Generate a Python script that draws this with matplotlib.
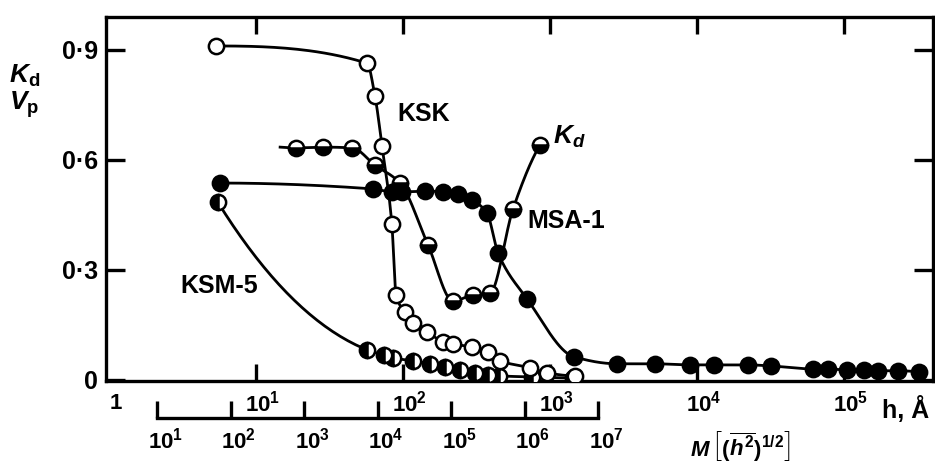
import numpy as np
import matplotlib
matplotlib.use('Agg')
import matplotlib.pyplot as plt
from matplotlib.ticker import NullLocator

plt.rcParams['font.family'] = ['Liberation Sans', 'DejaVu Sans']
plt.rcParams['font.weight'] = 'bold'
plt.rcParams['mathtext.fontset'] = 'custom'
plt.rcParams['mathtext.rm'] = 'Liberation Sans:bold'
plt.rcParams['mathtext.it'] = 'Liberation Sans:italic:bold'
plt.rcParams['mathtext.bf'] = 'Liberation Sans:bold'

# h [A] and Kd / Vp values
ksk_h = [5.35, 56.9, 64.5, 72, 84, 89.6, 103, 117, 146, 187, 219, 294, 379, 457, 731, 955, 1480]
ksk_v = [0.911, 0.864, 0.774, 0.638, 0.425, 0.232, 0.185, 0.155, 0.131, 0.104, 0.098, 0.090,
         0.076, 0.052, 0.033, 0.019, 0.011]

msa_h = [5.69, 62.5, 84, 98, 141, 187, 237, 294, 373, 443, 698, 1456, 2858, 5180, 8960,
         13050, 22240, 31870, 61500, 77800, 104800, 136700, 170300, 232900, 323800]
msa_v = [0.537, 0.521, 0.513, 0.513, 0.515, 0.513, 0.507, 0.491, 0.455, 0.346, 0.221, 0.063,
         0.044, 0.044, 0.041, 0.041, 0.041, 0.038, 0.030, 0.030, 0.027, 0.027, 0.025, 0.025, 0.022]

kd_h = [18.7, 28.6, 45, 64.5, 95.4, 148, 219, 299, 391, 560, 855]
kd_v = [0.633, 0.635, 0.633, 0.586, 0.537, 0.368, 0.215, 0.232, 0.237, 0.466, 0.641]
kd_line_start = (14.6, 0.635)

ksm_h = [5.5, 56.9, 74.3, 85.5, 117, 153, 193, 244, 309, 379, 450, 755, 1433]
ksm_v = [0.485, 0.082, 0.068, 0.060, 0.052, 0.044, 0.035, 0.027, 0.019, 0.014, 0.011, 0.008, 0.005]

h_ticks = [1, 1e1, 1e2, 1e3, 1e4, 1e5]
h_labels = ['1', r'$\mathregular{10^1}$', r'$\mathregular{10^2}$', r'$\mathregular{10^3}$',
            r'$\mathregular{10^4}$', r'$\mathregular{10^5}$']
m_ticks = [1e1, 1e2, 1e3, 1e4, 1e5, 1e6, 1e7]
m_labels = [r'$\mathregular{10^%d}$' % k for k in range(1, 8)]
y_ticks = [0, 0.3, 0.6, 0.9]
y_labels = ['0', '0·3', '0·6', '0·9']

# M = k * h^2
m_factor = 10 ** 0.346


def h_to_m(h):
    return m_factor * np.asarray(h, dtype=float) ** 2


def m_to_h(m):
    return np.sqrt(np.maximum(np.asarray(m, dtype=float), 1e-300) / m_factor)


def smooth(h, v, n=40):
    # monotone cubic (pchip) through the points, in log h
    x = np.log10(h)
    y = np.asarray(v, dtype=float)
    dx = np.diff(x)
    d = np.diff(y) / dx
    m = np.zeros_like(y)
    for k in range(1, len(x) - 1):
        if d[k - 1] * d[k] > 0:
            w1 = 2 * dx[k] + dx[k - 1]
            w2 = dx[k] + 2 * dx[k - 1]
            m[k] = (w1 + w2) / (w1 / d[k - 1] + w2 / d[k])

    def end_slope(h0, h1, d0, d1):
        s = ((2 * h0 + h1) * d0 - h0 * d1) / (h0 + h1)
        if np.sign(s) != np.sign(d0):
            s = 0.0
        elif np.sign(d0) != np.sign(d1) and abs(s) > 3 * abs(d0):
            s = 3 * d0
        return s

    m[0] = end_slope(dx[0], dx[1], d[0], d[1])
    m[-1] = end_slope(dx[-1], dx[-2], d[-1], d[-2])
    xs, ys = [], []
    t = np.linspace(0, 1, n)
    for k in range(len(dx)):
        h00 = 2 * t**3 - 3 * t**2 + 1
        h10 = t**3 - 2 * t**2 + t
        h01 = -2 * t**3 + 3 * t**2
        h11 = t**3 - t**2
        ys.append(h00 * y[k] + h10 * dx[k] * m[k] + h01 * y[k + 1] + h11 * dx[k] * m[k + 1])
        xs.append(x[k] + t * dx[k])
    return 10 ** np.concatenate(xs), np.concatenate(ys)


fig = plt.figure(figsize=(9.35, 4.66), dpi=100)
ax = fig.add_axes([106 / 935, 85 / 466, 827 / 935, 364 / 466])
ax.set_xscale('log')
ax.set_xlim(10 ** -0.02, 10 ** 5.605)
ax.set_ylim(-0.003, 0.99)

lw = 2.0
ms = 11
mew = 1.8

# curves
for h, v in [(ksk_h, ksk_v), (msa_h, msa_v), (ksm_h, ksm_v)]:
    xs, ys = smooth(h, v)
    ax.plot(xs, ys, color='black', lw=lw, zorder=2)
xs, ys = smooth([kd_line_start[0]] + kd_h, [kd_line_start[1]] + kd_v)
ax.plot(xs, ys, color='black', lw=lw, zorder=2)

# markers
ax.plot(ksm_h, ksm_v, ls='none', marker='o', ms=ms, mew=mew, mec='black', mfc='black',
        fillstyle='left', markerfacecoloralt='white', zorder=3)
ax.plot(ksk_h, ksk_v, ls='none', marker='o', ms=ms, mew=mew, mec='black', mfc='white', zorder=4)
ax.plot(msa_h, msa_v, ls='none', marker='o', ms=ms, mew=mew, mec='black', mfc='black', zorder=5)
ax.plot(kd_h, kd_v, ls='none', marker='o', ms=ms, mew=mew, mec='black', mfc='black',
        fillstyle='bottom', markerfacecoloralt='white', zorder=6)

# curve labels
ax.text(139, 0.725, 'KSK', fontsize=18, ha='center', va='center')
ax.text(1047, 0.663, r'$K_d$', fontsize=19, ha='left', va='center')
ax.text(698, 0.434, 'MSA-1', fontsize=18, ha='left', va='center')
ax.text(3.04, 0.256, 'KSM-5', fontsize=18, ha='left', va='center')

# frame and ticks
for side in ['left', 'right', 'top', 'bottom']:
    ax.spines[side].set_linewidth(2.4)
ax.xaxis.set_minor_locator(NullLocator())
ax.set_xticks(h_ticks[1:])
ax.set_xticklabels([])
ax.set_yticks(y_ticks)
ax.set_yticklabels(y_labels, fontsize=18)
ax.tick_params(axis='y', direction='in', length=14, width=2.4, pad=6, left=True, right=True)
ax.tick_params(axis='x', direction='in', length=12, width=2.4, top=True, bottom=True)

for v, lab in zip(h_ticks, h_labels):
    ax.annotate(lab, xy=(v, 0), xycoords=('data', 'axes fraction'), xytext=(5, -16),
                textcoords='offset points', ha='center', va='center', fontsize=16,
                annotation_clip=False)

# second scale for M
secax = ax.secondary_xaxis(-0.1016, functions=(h_to_m, m_to_h))
secax.xaxis.set_minor_locator(NullLocator())
secax.set_xticks(m_ticks)
secax.set_xticklabels([])
secax.spines['bottom'].set_linewidth(2.4)
secax.spines['bottom'].set_bounds(m_ticks[0], m_ticks[-1])
secax.tick_params(axis='x', direction='in', length=12, width=2.4)

for v, lab in zip(m_ticks, m_labels):
    ax.annotate(lab, xy=(m_to_h(v), -0.1016), xycoords=('data', 'axes fraction'),
                xytext=(6, -16), textcoords='offset points', ha='center', va='center',
                fontsize=16, annotation_clip=False)

# axis titles
fig.text(25 / 935, 1 - 76 / 466, r'$K_{\mathrm{d}}$', fontsize=19, ha='center', va='center')
fig.text(24 / 935, 1 - 105 / 466, r'$V_{\mathrm{p}}$', fontsize=19, ha='center', va='center')
fig.text(906 / 935, 1 - 410 / 466, 'h, Å', fontsize=18, ha='center', va='center')
fig.text(740 / 935, 1 - 446 / 466, r'$M\,\left[(\overline{h^{2}})^{1/2}\right]$', fontsize=16,
         ha='center', va='center')

fig.savefig('out.png', dpi=100)
